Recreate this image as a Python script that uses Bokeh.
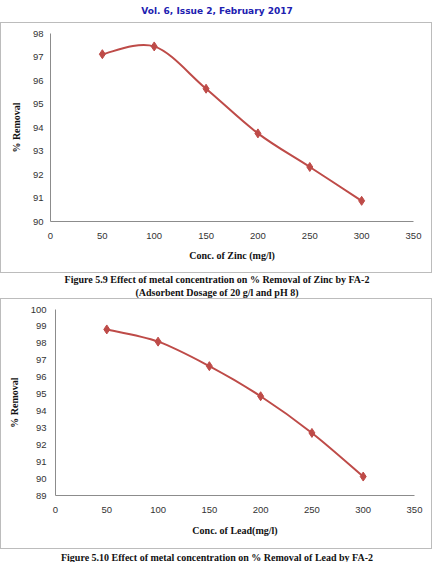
from bokeh.plotting import figure
from bokeh.layouts import column, row
from bokeh.models import Range1d, FixedTicker, Div
from bokeh.embed import file_html
from bokeh.resources import INLINE
import numpy as np

header = "Vol. 6, Issue 2, February 2017"

zinc_conc = [50, 100, 150, 200, 250, 300]
zinc_removal = [97.12, 97.45, 95.65, 93.75, 92.32, 90.88]
lead_conc = [50, 100, 150, 200, 250, 300]
lead_removal = [98.82, 98.10, 96.65, 94.87, 92.70, 90.12]

x_ticks = [0, 50, 100, 150, 200, 250, 300, 350]
zinc_y_ticks = [90, 91, 92, 93, 94, 95, 96, 97, 98]
lead_y_ticks = [89, 90, 91, 92, 93, 94, 95, 96, 97, 98, 99, 100]

zinc_xlabel = "Conc. of Zinc (mg/l)"
lead_xlabel = "Conc. of Lead(mg/l)"
ylabel = "% Removal"
cap1a = "Figure 5.9 Effect of metal concentration on % Removal of Zinc by FA-2"
cap1b = "(Adsorbent Dosage of 20 g/l and pH 8)"
cap2 = "Figure 5.10 Effect of metal concentration on % Removal of Lead by FA-2"

LINE = "#be4b48"
SERIF = "Liberation Serif"
SANS = "Liberation Sans"


def smooth_segments(x, y):
    x = np.asarray(x, float)
    y = np.asarray(y, float)
    n = len(x)
    xp = np.concatenate([[x[0]], x, [x[-1]]])
    yp = np.concatenate([[y[0]], y, [y[-1]]])
    out = {k: [] for k in ("x0", "y0", "x1", "y1", "cx0", "cy0", "cx1", "cy1")}
    for i in range(n - 1):
        a = i + 1
        out["x0"].append(xp[a]); out["y0"].append(yp[a])
        out["x1"].append(xp[a + 1]); out["y1"].append(yp[a + 1])
        out["cx0"].append(xp[a] + (xp[a + 1] - xp[a - 1]) / 6)
        out["cy0"].append(yp[a] + (yp[a + 1] - yp[a - 1]) / 6)
        out["cx1"].append(xp[a + 1] - (xp[a + 2] - xp[a]) / 6)
        out["cy1"].append(yp[a + 1] - (yp[a + 2] - yp[a]) / 6)
    return out


def make_chart(xs, ys, yticks, xlabel, height, bl, br, bt, bb, xs1, xs2, ys1, ys2):
    p = figure(width=432, height=height, output_backend="svg", toolbar_location=None,
               x_range=Range1d(0, 350), y_range=Range1d(yticks[0], yticks[-1]),
               min_border_left=bl, min_border_right=br, min_border_top=bt, min_border_bottom=bb,
               styles={"border": "1px solid #bcbcbc", "box-sizing": "border-box"})
    p.outline_line_color = None
    p.xgrid.visible = False
    p.ygrid.visible = False
    p.xaxis.ticker = FixedTicker(ticks=x_ticks)
    p.yaxis.ticker = FixedTicker(ticks=yticks)
    for ax in (p.xaxis[0], p.yaxis[0]):
        ax.axis_line_color = "#8c8c8c"
        ax.major_tick_line_color = None
        ax.minor_tick_line_color = None
        ax.major_tick_out = 0
        ax.major_tick_in = 0
        ax.minor_tick_out = 0
        ax.minor_tick_in = 0
        ax.major_label_text_font = SANS
        ax.major_label_text_font_size = "9.5px"
        ax.major_label_text_color = "#333333"
        ax.axis_label_text_font = SERIF
        ax.axis_label_text_font_style = "bold"
        ax.axis_label_text_font_size = "10px"
        ax.axis_label_text_color = "#111111"
    p.xaxis.axis_label = xlabel
    p.yaxis.axis_label = ylabel
    p.xaxis.major_label_standoff = xs1
    p.xaxis.axis_label_standoff = xs2
    p.yaxis.major_label_standoff = ys1
    p.yaxis.axis_label_standoff = ys2
    seg = smooth_segments(xs, ys)
    p.bezier(x0="x0", y0="y0", x1="x1", y1="y1", cx0="cx0", cy0="cy0", cx1="cx1", cy1="cy1",
             source=seg, line_color=LINE, line_width=2)
    p.scatter(xs, ys, marker="diamond", size=9, fill_color=LINE, line_color=LINE)
    return p


def text_div(lines, height, line_height, font, color):
    inner = "<br>".join(lines)
    html = ('<div style="width:434px;text-align:center;font:%s;color:%s;'
            'line-height:%dpx;margin:0;padding:0;white-space:nowrap;">%s</div>'
            % (font, color, line_height, inner))
    return Div(text=html, width=434, height=height, margin=0)


head_div = text_div([header], 22, 22, "bold 9px 'DejaVu Sans'", "#2020b0")
# frame 1: page x 50..411, y 33..221 ; figure at y 22..273
p1 = make_chart(zinc_conc, zinc_removal, zinc_y_ticks, zinc_xlabel, 251, 49, 20, 10, 53,
                11, 8, 7, 8)
cap1_div = text_div([cap1a, cap1b], 25, 13, "bold 10px 'Liberation Serif'", "#111111")
# frame 2: page x 56..414, y 309..496 ; figure at y 298..549
p2 = make_chart(lead_conc, lead_removal, lead_y_ticks, lead_xlabel, 251, 54, 19, 10, 55,
                11, 9, 9, 8)
cap2_div = text_div([cap2], 13, 13, "bold 10px 'Liberation Serif'", "#111111")

layout = column(head_div, row(p1, spacing=0), cap1_div, row(p2, spacing=0), cap2_div, spacing=0)
open("out.html", "w").write(file_html(layout, INLINE))
